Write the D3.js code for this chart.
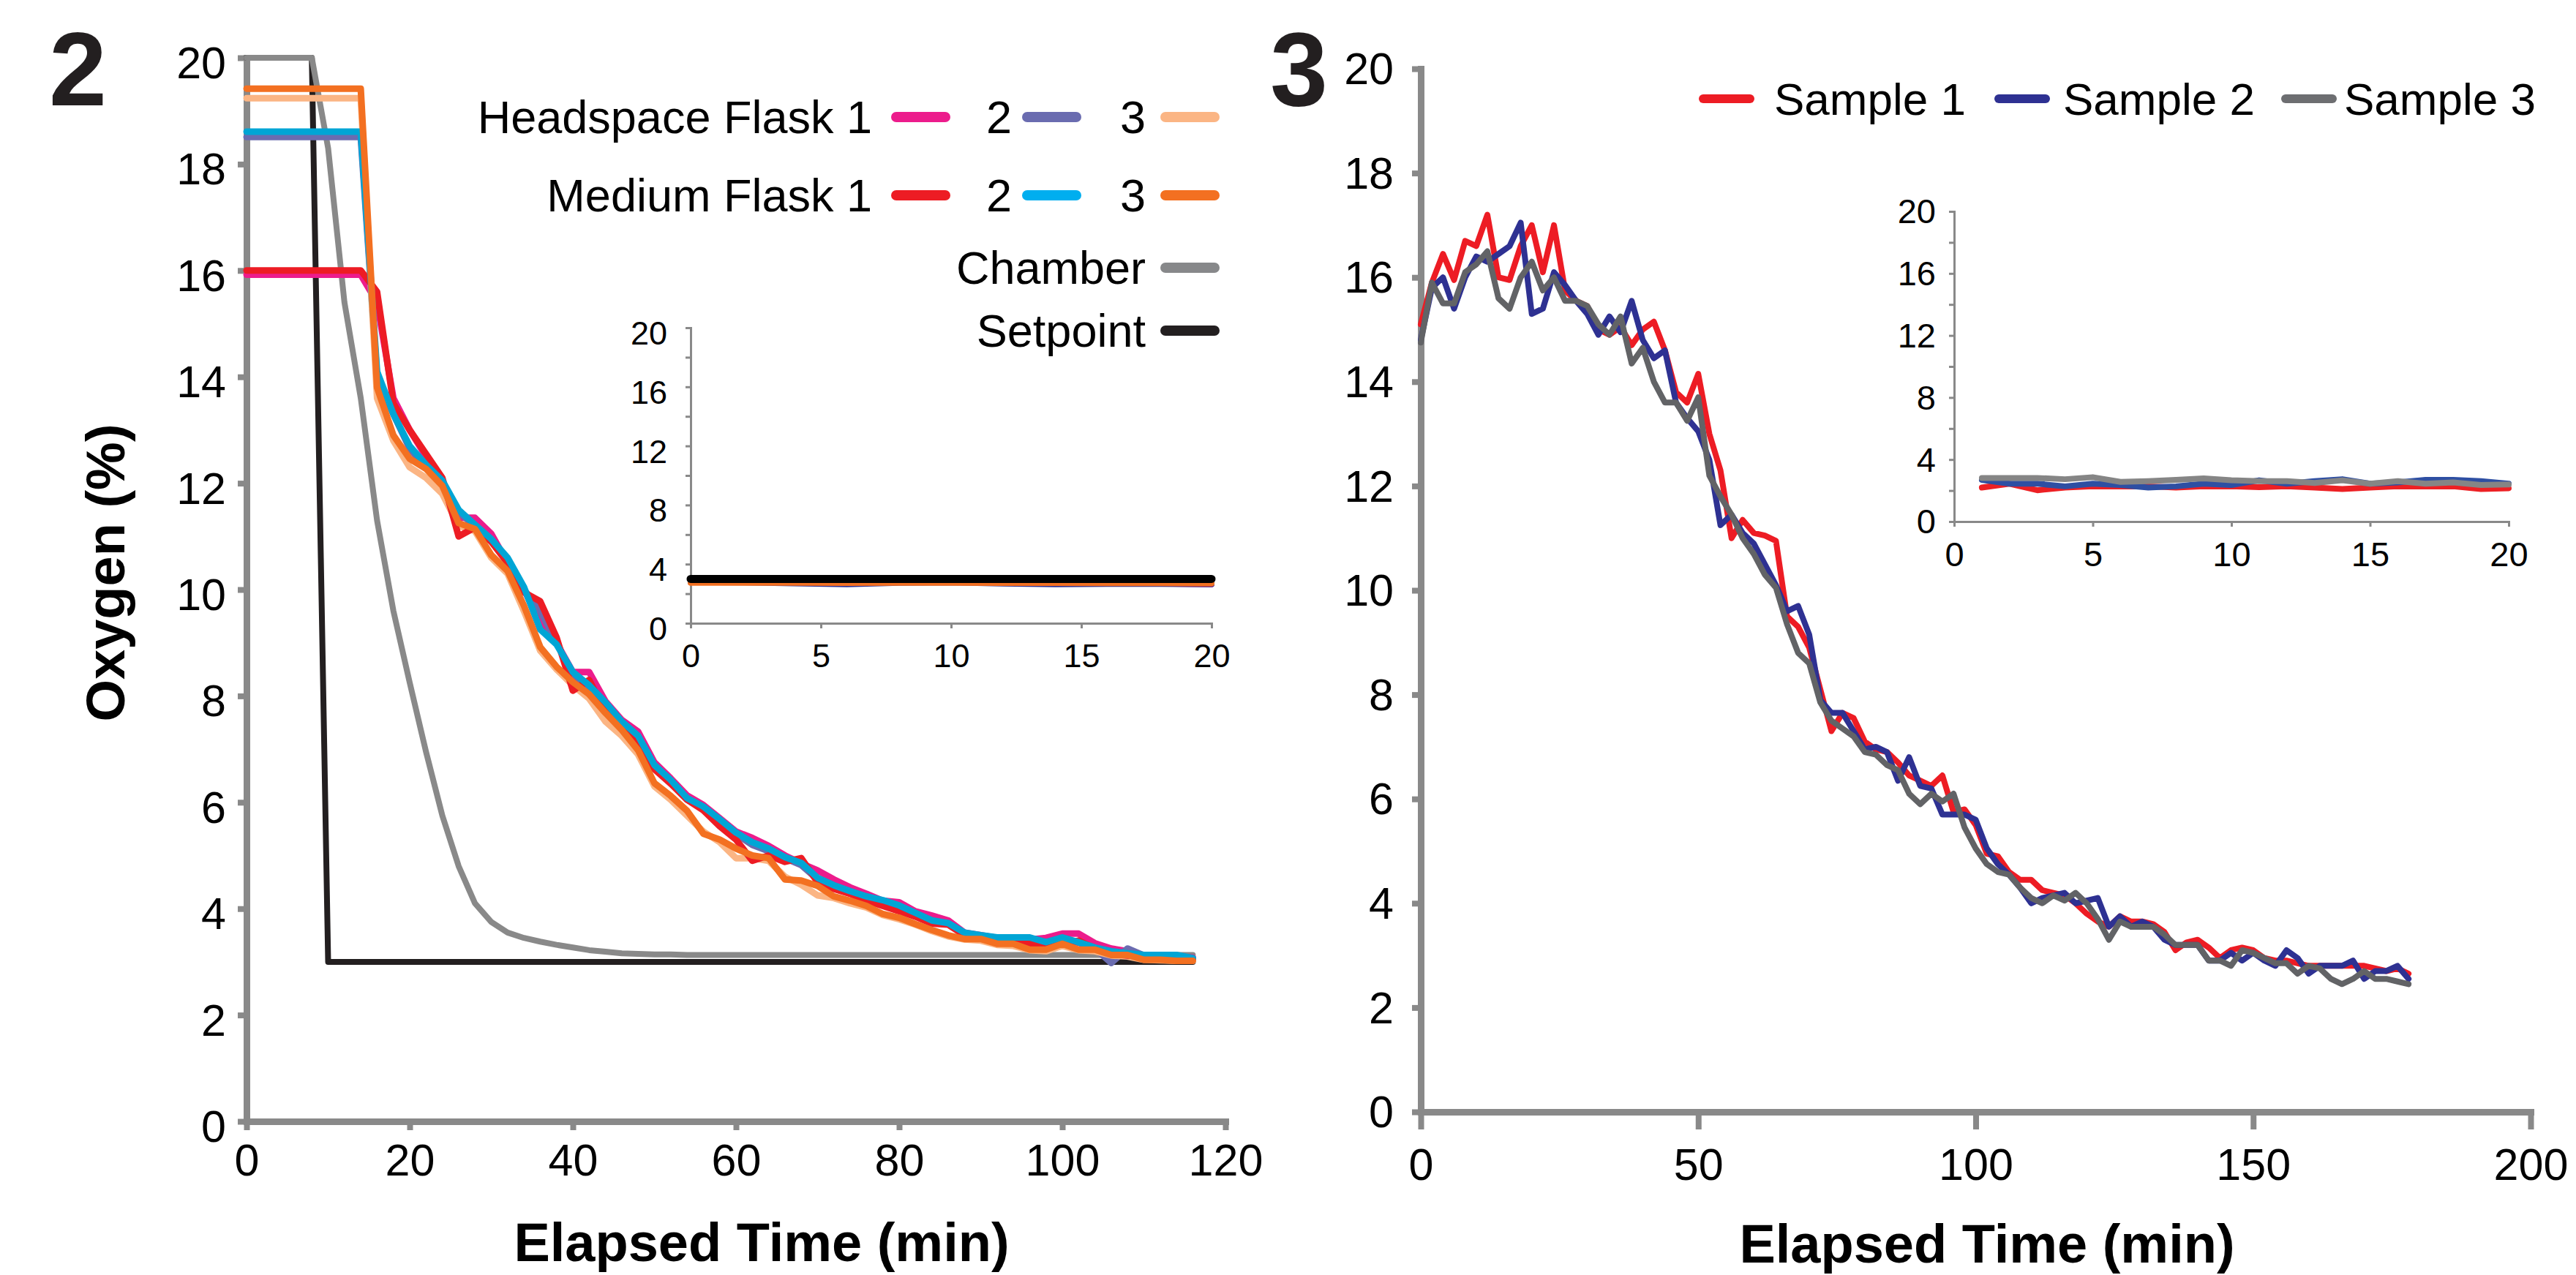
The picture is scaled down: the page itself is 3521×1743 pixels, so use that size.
<html>
<head>
<script src="https://d3js.org/d3.v7.min.js"></script>
<style>
body { margin: 0; background: #fff; }
text { font-family: "Liberation Sans", Arial, Helvetica, sans-serif; }
</style>
</head>
<body>
<svg id="chart" width="3521" height="1743"></svg>
<script>

// ---------- panel 2 data (minutes, % O2) ----------
var flaskTimes = [0,2,4,6,8,10,12,14,16,18,20,22,24,26,28,30,32,34,36,38,40,42,44,46,48,50,52,54,56,58,
  60,62,64,66,68,70,72,74,76,78,80,82,84,86,88,90,92,94,96,98,100,102,104,106,108,110,112,114,116];

var headspace1 = [15.92,15.92,15.92,15.92,15.92,15.92,15.92,15.92,
  15.4,13.6,13.0,12.5,12.05,11.35,11.35,11.05,10.5,10.0,
  9.4,9.0,8.45,8.45,7.9,7.55,7.33,6.75,6.45,6.13,
  5.95,5.7,5.45,5.33,5.18,5.0,4.85,4.72,4.55,4.4,
  4.28,4.15,4.12,3.95,3.87,3.78,3.55,3.5,3.45,3.45,
  3.42,3.45,3.53,3.53,3.35,3.25,3.2,3.12,3.1,3.1,
  3.08];
var headspace2 = [18.51,18.51,18.51,18.51,18.51,18.51,18.51,18.51,
  14.0,13.3,12.65,12.3,12.0,11.45,11.2,10.9,10.55,10.0,
  9.6,9.0,8.4,8.15,7.85,7.5,7.2,6.68,6.4,6.05,
  5.88,5.65,5.4,5.2,5.08,4.95,4.82,4.55,4.42,4.3,
  4.2,4.12,4.02,3.9,3.75,3.72,3.52,3.48,3.44,3.44,
  3.42,3.36,3.42,3.36,3.25,2.98,3.25,3.12,3.1,3.1,
  3.07];
var headspace3 = [19.24,19.24,19.24,19.24,19.24,19.24,19.24,19.24,
  13.6,12.8,12.3,12.1,11.8,11.2,11.1,10.6,10.3,9.6,
  8.85,8.5,8.2,7.95,7.52,7.25,6.9,6.3,6.05,5.75,
  5.45,5.25,4.95,4.95,4.9,4.6,4.45,4.25,4.2,4.1,
  4.02,3.88,3.8,3.7,3.58,3.48,3.42,3.4,3.32,3.3,
  3.22,3.2,3.3,3.22,3.2,3.12,3.1,3.04,3.03,3.02,
  3.02];
var medium1 = [16.0,16.0,16.0,16.0,16.0,16.0,16.0,16.0,
  15.6,13.5,13.0,12.55,12.1,11.0,11.17,10.9,10.5,9.95,
  9.78,9.1,8.1,8.3,7.7,7.4,7.15,6.62,6.35,6.05,
  5.85,5.55,5.3,4.9,5.0,4.88,4.95,4.5,4.37,4.28,
  4.15,4.05,3.95,3.85,3.72,3.7,3.5,3.45,3.4,3.38,
  3.35,3.3,3.33,3.4,3.25,3.15,3.12,3.1,3.08,3.05,
  3.05];
var medium2 = [18.61,18.61,18.61,18.61,18.61,18.61,18.61,18.61,
  14.1,13.3,12.7,12.35,12.05,11.5,11.22,10.95,10.6,10.05,
  9.25,8.97,8.45,8.2,7.88,7.52,7.25,6.7,6.42,6.08,
  5.92,5.68,5.43,5.25,5.13,4.97,4.86,4.58,4.44,4.33,
  4.23,4.16,4.06,3.92,3.78,3.73,3.55,3.5,3.46,3.46,
  3.46,3.37,3.46,3.37,3.27,3.2,3.16,3.13,3.13,3.13,
  3.07];
var medium3 = [19.42,19.42,19.42,19.42,19.42,19.42,19.42,19.42,
  13.8,12.9,12.46,12.27,11.95,11.25,11.14,10.65,10.35,9.7,
  8.92,8.55,8.26,8.03,7.68,7.36,6.98,6.36,6.12,5.84,
  5.41,5.3,5.13,5.0,4.95,4.55,4.53,4.43,4.23,4.15,
  4.05,3.9,3.83,3.71,3.6,3.5,3.43,3.43,3.34,3.34,
  3.23,3.23,3.34,3.23,3.23,3.13,3.13,3.04,3.04,3.02,
  3.02];
var chamber = [20,20,20,20,20,18.3,15.4,13.6,
  11.3,9.6,8.25,6.95,5.75,4.8,4.1,3.75,3.55,3.45,
  3.38,3.32,3.27,3.22,3.19,3.16,3.15,3.14,3.14,3.13,
  3.13,3.13,3.13,3.13,3.13,3.13,3.13,3.13,3.13,3.13,
  3.13,3.13,3.13,3.13,3.13,3.13,3.13,3.13,3.13,3.13,
  3.13,3.13,3.13,3.13,3.13,3.13,3.13,3.13,3.13,3.13,
  3.13];
var setpointTimes = [0, 8, 10, 116];
var setpoint = [20, 20, 3, 3];

// panel 2 inset
var inset2Times = [0,2,4,6,8,10,12,14,16,18,20];
var inHeadspace1 = [2.8,2.8,2.79,2.79,2.8,2.79,2.78,2.75,2.72,2.68,2.64];
var inHeadspace2 = [2.78,2.76,2.7,2.64,2.74,2.76,2.68,2.64,2.66,2.66,2.64];
var inHeadspace3 = [2.8,2.8,2.8,2.8,2.8,2.8,2.8,2.79,2.79,2.78,2.77];
var inMedium1 = [2.78,2.78,2.77,2.77,2.78,2.77,2.76,2.74,2.74,2.72,2.7];
var inMedium2 = [2.79,2.78,2.78,2.77,2.78,2.78,2.77,2.76,2.76,2.74,2.72];
var inMedium3 = [2.74,2.74,2.73,2.72,2.73,2.73,2.72,2.72,2.71,2.71,2.7];
var inSetpoint = [3,3,3,3,3,3,3,3,3,3,3];

// ---------- panel 3 data ----------
var sampleTimes = [0,2,4,6,8,10,12,14,16,18,20,22,24,26,28,30,32,34,36,38,40,42,44,46,48,50,52,54,56,58,
  60,62,64,66,68,70,72,74,76,78,80,82,84,86,88,90,92,94,96,98,100,102,104,106,108,110,112,114,116,118,
  120,122,124,126,128,130,132,134,136,138,140,142,144,146,148,150,152,154,156,158,160,162,164,166,168,170,172,174,176,178];
var sample1 = [15.1,15.9,16.45,15.95,16.7,16.6,17.2,16.0,15.95,16.6,
  17.0,16.1,17.0,15.75,15.55,15.45,15.0,14.9,15.05,14.7,
  15.0,15.15,14.6,13.8,13.6,14.15,13.0,12.3,11.0,11.35,
  11.1,11.05,10.95,9.5,9.3,8.9,8.1,7.3,7.65,7.55,
  7.1,6.95,6.9,6.7,6.45,6.35,6.25,6.45,5.75,5.8,
  5.5,4.95,4.9,4.6,4.45,4.45,4.25,4.2,4.15,4.0,
  3.8,3.65,3.55,3.75,3.65,3.65,3.6,3.45,3.1,3.25,
  3.3,3.15,2.95,3.1,3.15,3.1,2.95,2.9,2.9,2.85,
  2.8,2.8,2.8,2.8,2.8,2.8,2.75,2.7,2.75,2.65];
var sample2 = [14.8,15.8,16.0,15.4,16.0,16.4,16.3,16.45,16.6,17.05,
  15.3,15.4,16.1,15.85,15.55,15.3,14.9,15.25,14.95,15.55,
  14.8,14.45,14.6,13.6,13.3,13.05,12.5,11.25,11.45,11.1,
  10.9,10.5,10.1,9.6,9.7,9.15,7.9,7.65,7.65,7.3,
  6.95,7.0,6.9,6.35,6.8,6.25,6.2,5.7,5.7,5.7,
  5.6,5.05,4.75,4.55,4.3,4.0,4.1,4.15,4.2,4.0,
  4.05,4.1,3.55,3.75,3.55,3.65,3.55,3.3,3.2,3.2,
  3.2,2.9,2.9,3.05,2.9,3.05,2.9,2.8,3.1,2.95,
  2.65,2.8,2.8,2.8,2.9,2.55,2.7,2.7,2.8,2.55];
var sample3 = [14.75,15.9,15.5,15.5,16.1,16.25,16.5,15.6,15.4,16.0,
  16.3,15.75,16.0,15.55,15.55,15.45,15.1,14.9,15.25,14.35,
  14.65,14.0,13.6,13.6,13.25,13.7,12.2,11.8,11.45,11.0,
  10.7,10.3,10.05,9.35,8.8,8.6,7.85,7.5,7.35,7.2,
  6.9,6.85,6.65,6.55,6.1,5.9,6.1,5.95,6.1,5.45,
  5.05,4.75,4.6,4.55,4.3,4.1,4.0,4.15,4.05,4.2,
  4.0,3.7,3.3,3.65,3.55,3.55,3.55,3.4,3.2,3.2,
  3.2,2.9,2.9,2.8,3.1,3.05,2.95,2.85,2.85,2.65,
  2.8,2.75,2.55,2.45,2.55,2.7,2.55,2.55,2.5,2.45];

// panel 3 inset
var inset3Times = [1,2,3,4,5,6,7,8,9,10,11,12,13,14,15,16,17,18,19,20];
var inSample1 = [2.19,2.44,2.02,2.19,2.27,2.27,2.27,2.19,2.27,2.27,2.22,2.27,2.19,2.1,2.19,2.27,2.27,2.27,2.1,2.15];
var inSample2 = [2.69,2.44,2.44,2.27,2.44,2.36,2.19,2.27,2.44,2.36,2.66,2.44,2.61,2.73,2.44,2.52,2.69,2.69,2.61,2.44];
var inSample3 = [2.81,2.81,2.81,2.73,2.86,2.56,2.61,2.69,2.78,2.66,2.61,2.61,2.49,2.66,2.44,2.61,2.44,2.52,2.36,2.39];

// axis ticks
var o2Ticks = [0,2,4,6,8,10,12,14,16,18,20];
var time2Ticks = [0,20,40,60,80,100,120];
var time3Ticks = [0,50,100,150,200];
var insetYTicks = [0,2,4,6,8,10,12,14,16,18,20];
var insetXTicks = [0,5,10,15,20];

var font = '"Liberation Sans", Arial, Helvetica, sans-serif';
var axisGray = "#898989";

var svg = d3.select("#chart");
svg.append("rect").attr("width", 3521).attr("height", 1743).attr("fill", "#fff");

function drawAxes(x, y, o) {
  var ya = svg.append("g")
    .attr("transform", "translate(" + x(0) + ",0)")
    .call(d3.axisLeft(y).tickValues(o.yTicks).tickFormat(o.yFormat)
      .tickSize(o.yTick).tickSizeOuter(0).tickPadding(o.yPad));
  var xa = svg.append("g")
    .attr("transform", "translate(0," + y(0) + ")")
    .call(d3.axisBottom(x).tickValues(o.xTicks).tickFormat(d3.format("d"))
      .tickSize(o.xTick).tickSizeOuter(0).tickPadding(o.xPad));
  [ya, xa].forEach(function (a) {
    a.attr("font-family", font).attr("font-size", o.font);
    a.select(".domain").attr("stroke", axisGray).attr("stroke-width", o.width)
      .attr("stroke-linecap", "square");
    a.selectAll(".tick line").attr("stroke", axisGray).attr("stroke-width", o.tickWidth);
    a.selectAll(".tick text").attr("fill", "#000");
  });
  ya.selectAll(".tick text").attr("dy", o.yDy);
}

function drawLine(times, values, x, y, color, width) {
  var line = d3.line()
    .x(function (d, i) { return x(times[i]); })
    .y(function (d) { return y(d); });
  svg.append("path").datum(values)
    .attr("d", line)
    .attr("fill", "none")
    .attr("stroke", color)
    .attr("stroke-width", width)
    .attr("stroke-linejoin", "round")
    .attr("stroke-linecap", "round");
}

var every4 = function (d) { return d % 4 === 0 ? d : ""; };

// ================= panel 2 =================
var x2 = d3.scaleLinear().domain([0, 120]).range([337, 1675]);
var y2 = d3.scaleLinear().domain([0, 20]).range([1533, 79]);

drawAxes(x2, y2, { yTicks: o2Ticks, xTicks: time2Ticks, yFormat: d3.format("d"),
  yTick: 12, xTick: 12, yPad: 16, xPad: 19, font: 61, width: 9, tickWidth: 8, yDy: "0.45em" });

drawLine(setpointTimes, setpoint, x2, y2, "#231f20", 8);
drawLine(flaskTimes, chamber, x2, y2, "#898989", 8);
drawLine(flaskTimes, headspace1, x2, y2, "#ec1c8c", 9);
drawLine(flaskTimes, headspace2, x2, y2, "#6a6cb0", 9);
drawLine(flaskTimes, headspace3, x2, y2, "#fbb584", 9);
drawLine(flaskTimes, medium1, x2, y2, "#ed1c24", 9);
drawLine(flaskTimes, medium2, x2, y2, "#00a5d5", 9);
drawLine(flaskTimes, medium3, x2, y2, "#f37021", 9);

// inset
var ix2 = d3.scaleLinear().domain([0, 20]).range([944, 1656]);
var iy2 = d3.scaleLinear().domain([0, 20]).range([852, 448]);
drawAxes(ix2, iy2, { yTicks: insetYTicks, xTicks: insetXTicks, yFormat: every4,
  yTick: 7, xTick: 7, yPad: 25, xPad: 21, font: 45, width: 3, tickWidth: 3, yDy: "0.5em" });
drawLine(inset2Times, inHeadspace1, ix2, iy2, "#ec1c8c", 8);
drawLine(inset2Times, inHeadspace2, ix2, iy2, "#2e3192", 8);
drawLine(inset2Times, inHeadspace3, ix2, iy2, "#fbb584", 8);
drawLine(inset2Times, inMedium1, ix2, iy2, "#ed1c24", 8);
drawLine(inset2Times, inMedium2, ix2, iy2, "#00a5d5", 8);
drawLine(inset2Times, inMedium3, ix2, iy2, "#f37021", 8);
drawLine(inset2Times, inSetpoint, ix2, iy2, "#000000", 11);

// legend
var legendRows = [
  { y: 160, items: [
    { label: "Headspace Flask 1", end: 1192, sw: 1218, color: "#ec1c8c" },
    { label: "2", end: 1383, sw: 1397, color: "#6a6cb0" },
    { label: "3", end: 1566, sw: 1586, color: "#fbb584" } ] },
  { y: 267, items: [
    { label: "Medium Flask 1", end: 1192, sw: 1218, color: "#ed1c24" },
    { label: "2", end: 1383, sw: 1397, color: "#00aeef" },
    { label: "3", end: 1566, sw: 1586, color: "#f37021" } ] },
  { y: 366, items: [ { label: "Chamber", end: 1566, sw: 1586, color: "#87888a" } ] },
  { y: 452, items: [ { label: "Setpoint", end: 1566, sw: 1586, color: "#231f20" } ] }
];
legendRows.forEach(function (row) {
  row.items.forEach(function (it) {
    svg.append("text").attr("x", it.end).attr("y", row.y + 22)
      .attr("text-anchor", "end").attr("font-size", 63).attr("font-family", font)
      .text(it.label);
    svg.append("line").attr("x1", it.sw + 7).attr("x2", it.sw + 74)
      .attr("y1", row.y).attr("y2", row.y)
      .attr("stroke", it.color).attr("stroke-width", 14).attr("stroke-linecap", "round");
  });
});

// titles
svg.append("text").attr("x", 67).attr("y", 144).attr("font-size", 142)
  .attr("font-weight", "bold").attr("font-family", font).attr("fill", "#231f20").text("2");
svg.append("text").attr("transform", "translate(170,783) rotate(-90)")
  .attr("text-anchor", "middle").attr("font-size", 74).attr("font-weight", "bold")
  .attr("font-family", font).text("Oxygen (%)");
svg.append("text").attr("x", 1041).attr("y", 1724).attr("text-anchor", "middle")
  .attr("font-size", 74).attr("font-weight", "bold").attr("font-family", font)
  .text("Elapsed Time (min)");

// ================= panel 3 =================
var x3 = d3.scaleLinear().domain([0, 200]).range([1942, 3459]);
var y3 = d3.scaleLinear().domain([0, 20]).range([1520, 94]);

drawAxes(x3, y3, { yTicks: o2Ticks, xTicks: time3Ticks, yFormat: d3.format("d"),
  yTick: 12, xTick: 24, yPad: 25, xPad: 26, font: 61, width: 9, tickWidth: 8, yDy: "0.34em" });

drawLine(sampleTimes, sample1, x3, y3, "#ed1c24", 8);
drawLine(sampleTimes, sample2, x3, y3, "#2e3192", 8);
drawLine(sampleTimes, sample3, x3, y3, "#626366", 8);

var ix3 = d3.scaleLinear().domain([0, 20]).range([2671, 3429]);
var iy3 = d3.scaleLinear().domain([0, 20]).range([713, 289]);
drawAxes(ix3, iy3, { yTicks: insetYTicks, xTicks: insetXTicks, yFormat: every4,
  yTick: 7, xTick: 7, yPad: 18, xPad: 21, font: 47, width: 3, tickWidth: 3, yDy: "0.34em" });
drawLine(inset3Times, inSample1, ix3, iy3, "#ed2024", 8);
drawLine(inset3Times, inSample2, ix3, iy3, "#2e4fa3", 8);
drawLine(inset3Times, inSample3, ix3, iy3, "#858585", 8);

var sampleLegend = [
  { label: "Sample 1", sw: 2322, tx: 2425, color: "#ed1c24" },
  { label: "Sample 2", sw: 2726, tx: 2820, color: "#2e3192" },
  { label: "Sample 3", sw: 3118, tx: 3204, color: "#6d6e71" }
];
sampleLegend.forEach(function (it) {
  svg.append("line").attr("x1", it.sw + 6).attr("x2", it.sw + 70)
    .attr("y1", 135).attr("y2", 135)
    .attr("stroke", it.color).attr("stroke-width", 12).attr("stroke-linecap", "round");
  svg.append("text").attr("x", it.tx).attr("y", 157).attr("font-size", 62)
    .attr("font-family", font).text(it.label);
});

svg.append("text").attr("x", 1736).attr("y", 144).attr("font-size", 142)
  .attr("font-weight", "bold").attr("font-family", font).attr("fill", "#231f20").text("3");
svg.append("text").attr("x", 2716).attr("y", 1726).attr("text-anchor", "middle")
  .attr("font-size", 74).attr("font-weight", "bold").attr("font-family", font)
  .text("Elapsed Time (min)");

</script>
</body>
</html>
